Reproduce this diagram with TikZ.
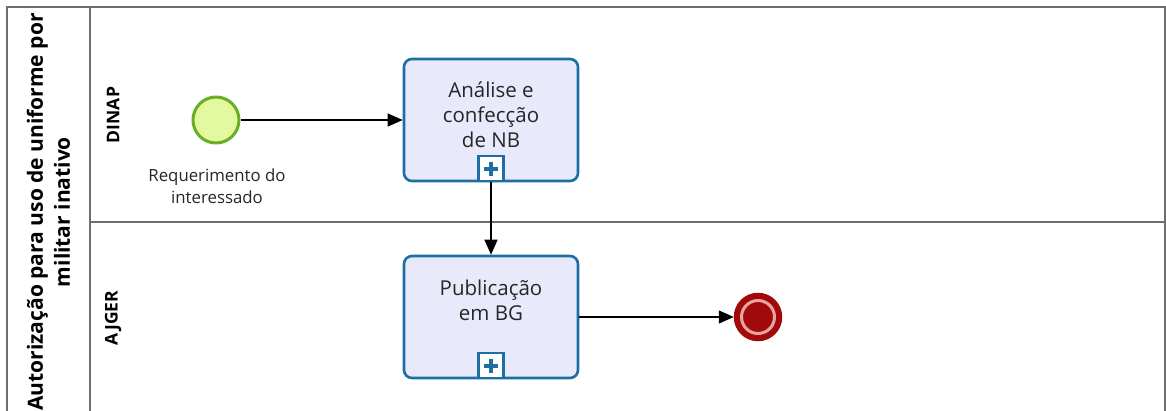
\documentclass[tikz,border=0pt]{standalone}
\usepackage{fontspec}
\setmainfont{Open Sans}
\usetikzlibrary{arrows.meta,calc}
\definecolor{poolline}{HTML}{6E6E6E}
\definecolor{taskfill}{HTML}{E8EAFB}
\definecolor{taskline}{HTML}{1D6FA3}
\definecolor{startfill}{HTML}{E4F8A0}
\definecolor{startline}{HTML}{6AAE26}
\definecolor{endred}{HTML}{A00A0A}
\definecolor{endpink}{HTML}{EAA3A3}
\tikzset{
  pool/.style={draw=poolline, line width=1.8pt},
  task/.style={draw=taskline, fill=taskfill, line width=2.6pt, rounded corners=8pt, minimum width=174pt, minimum height=122pt, inner sep=0pt},
  tasktext/.style={font=\fontsize{20.5}{25}\selectfont, align=center, text=black!85},
  marker/.style={draw=taskline, fill=white, line width=2.4pt, minimum size=25pt, inner sep=0pt},
  startev/.style={circle, draw=startline, fill=startfill, line width=3pt, minimum size=46pt, inner sep=0pt},
  endev/.style={circle, draw=endred, fill=endred, line width=3.5pt, minimum size=45pt, inner sep=0pt},
  flow/.style={draw=black, line width=1.2pt, -{Triangle[length=15pt,width=13pt]}},
  lanelabel/.style={font=\bfseries\fontsize{17.5}{20}\selectfont, rotate=90},
  pooltitle/.style={font=\bfseries\fontsize{21}{27}\selectfont, rotate=90, align=center, inner sep=0pt},
  evlabel/.style={font=\fontsize{16.8}{22}\selectfont, align=center, text=black!85}
}
\begin{document}
\begin{tikzpicture}[x=1pt,y=-1pt]
\useasboundingbox (0,0) rectangle (1166,410);
\clip (0,0) rectangle (1166,410);
\fill[white] (0,0) rectangle (1166,410);
% pool and lanes
\draw[pool] (7,7) rectangle (1165,430);
\draw[pool] (90,7) -- (90,430);
\draw[pool] (90,222) -- (1165,222);
\node[pooltitle] (title) at (48.5,212) {Autorização para uso de uniforme por\\militar inativo};
\node[lanelabel] (l1) at (113,115) {DINAP};
\node[lanelabel] (l2) at (113,318) {AJGER};
% start event
\node[startev] (start) at (216,120) {};
\node[evlabel] (startlbl) at (217,186) {Requerimento do\\interessado};
% tasks
\node[task] (task1) at (491,120) {};
\node[tasktext] (task1txt) at (491,115) {Análise e\\confecção\\de NB};
\node[marker] (m1) at (491,168.5) {};
\draw[taskline, line width=4pt] ($(m1.center)+(-7,0)$) -- ($(m1.center)+(7,0)$);
\draw[taskline, line width=4pt] ($(m1.center)+(0,-7)$) -- ($(m1.center)+(0,7)$);
\node[task] (task2) at (491,317) {};
\node[tasktext] (task2txt) at (491,300) {Publicação\\em BG};
\node[marker] (m2) at (491,365.5) {};
\draw[taskline, line width=4pt] ($(m2.center)+(-7,0)$) -- ($(m2.center)+(7,0)$);
\draw[taskline, line width=4pt] ($(m2.center)+(0,-7)$) -- ($(m2.center)+(0,7)$);
% end event
\node[endev] (end) at (758,317) {};
\draw[endpink, line width=3pt] (end.center) circle (16.5pt);
% flows
\draw[flow] (start.east) -- (task1.west);
\draw[flow] (m1.south) -- (task2.north);
\draw[flow] (task2.east) -- (end.west);
\end{tikzpicture}
\end{document}
